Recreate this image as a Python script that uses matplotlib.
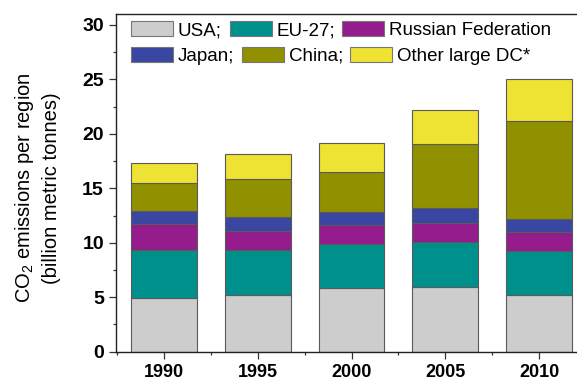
import matplotlib
matplotlib.use("Agg")
import matplotlib.pyplot as plt
from matplotlib.patches import Patch
from matplotlib.ticker import MultipleLocator, FixedLocator

plt.rcParams["font.family"] = ["Liberation Sans", "DejaVu Sans"]
plt.rcParams["mathtext.fontset"] = "custom"
plt.rcParams["mathtext.rm"] = "Liberation Sans"

# CO2 emissions by region (billion metric tonnes)
years = [1990, 1995, 2000, 2005, 2010]
usa = [4.95, 5.23, 5.81, 5.90, 5.23]
eu27 = [4.38, 4.08, 4.08, 4.20, 4.02]
russia = [2.39, 1.77, 1.72, 1.69, 1.78]
japan = [1.19, 1.26, 1.25, 1.41, 1.16]
china = [2.54, 3.50, 3.62, 5.89, 9.00]
other_dc = [1.83, 2.33, 2.67, 3.08, 3.83]

region_names = ["USA;", "EU-27;", "Russian Federation",
                "Japan;", "China;", "Other large DC*"]
region_colors = ["#cdcdcd", "#00908c", "#951c8d", "#3a47a2", "#919000", "#eee232"]

y_ticks = [0, 5, 10, 15, 20, 25, 30]

fig = plt.figure(figsize=(5.77, 3.83), dpi=100)
ax = fig.add_axes([116 / 577, 31.3 / 383, (587 - 116) / 577, 337.7 / 383])

series = [usa, eu27, russia, japan, china, other_dc]
bottom = [0.0] * len(years)
for vals, color in zip(series, region_colors):
    ax.bar(years, vals, width=3.5, bottom=bottom, color=color,
           edgecolor="#5a5a5a", linewidth=0.8, zorder=2)
    bottom = [b + v for b, v in zip(bottom, vals)]

ax.set_xlim(1987.45, 2012.55)
ax.set_ylim(0, 31)
ax.set_xticks(years)
ax.set_xticklabels([str(y) for y in years], fontweight="bold", fontsize=13)
ax.xaxis.set_minor_locator(FixedLocator([1987.5 + 5 * i for i in range(6)]))
ax.set_yticks(y_ticks)
ax.set_yticklabels([str(v) for v in y_ticks], fontweight="bold", fontsize=14)
ax.yaxis.set_minor_locator(MultipleLocator(2.5))

ax.tick_params(axis="both", which="major", direction="out", length=4.7,
               width=0.9, color="#333333")
ax.tick_params(axis="both", which="minor", direction="out", length=2.4,
               width=0.9, color="#333333")
ax.tick_params(axis="y", which="major", pad=4)
ax.tick_params(axis="x", which="major", pad=4)

for side in ["left", "bottom", "top", "right"]:
    ax.spines[side].set_linewidth(1.0)
    ax.spines[side].set_color("#222222")

ax.set_ylabel("CO$_{\\mathregular{2}}$ emissions per region\n(billion metric tonnes)",
              fontsize=14.5, linespacing=1.4)
ax.yaxis.set_label_coords(-0.117, 0.485)

handles = [Patch(facecolor=c, edgecolor="#777777", linewidth=0.8) for c in region_colors]
leg_kw = dict(loc="upper left", frameon=False, ncol=3, fontsize=13.5,
              handlelength=2.24, handleheight=0.85, handletextpad=0.24,
              columnspacing=0.41, borderpad=0, borderaxespad=0)
leg1 = ax.legend(handles[:3], region_names[:3],
                 bbox_to_anchor=(0.0328, 0.978), **leg_kw)
ax.add_artist(leg1)
ax.legend(handles[3:], region_names[3:],
          bbox_to_anchor=(0.0328, 0.903), **leg_kw)

fig.savefig("out.png", dpi=100)
